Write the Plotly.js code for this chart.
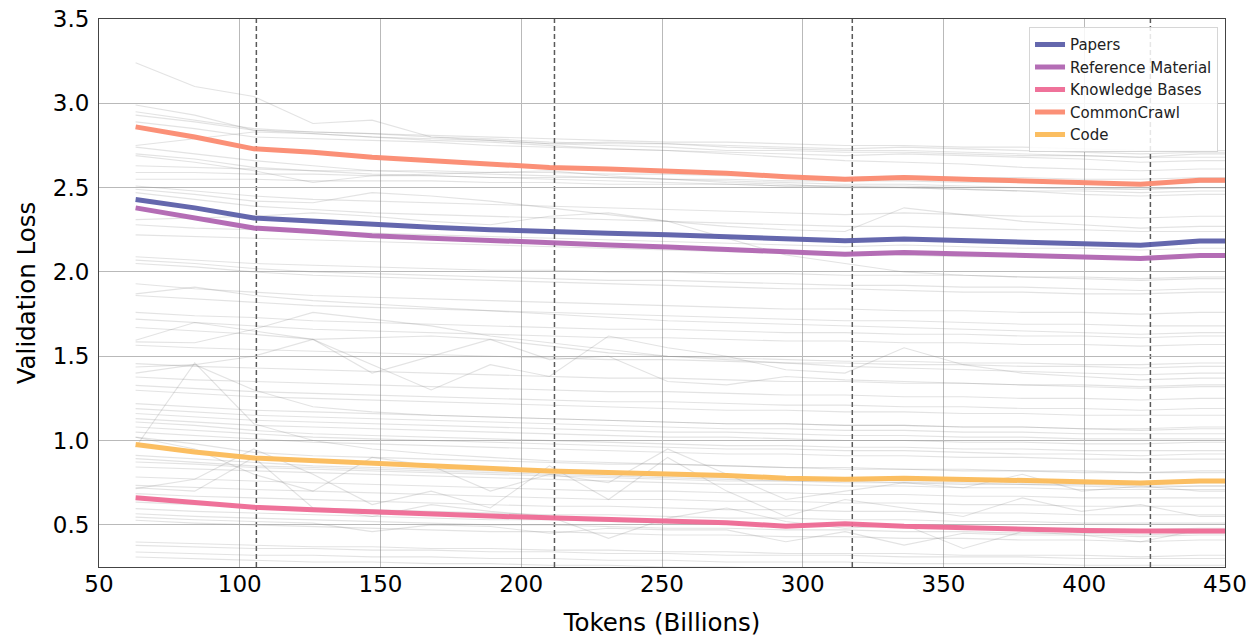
<!DOCTYPE html>
<html>
<head>
<meta charset="utf-8">
<script src="https://cdn.plot.ly/plotly-3.0.1.min.js"></script>
<style>html,body{margin:0;padding:0;background:#fff;}#chart{width:1250px;height:637px;}</style>
</head>
<body>
<div id="chart"></div>
<script>
// Token counts (billions) at each evaluation
const tokens = [63,84,105,126,147,168,189,210,231,252,273,294,315,336,357,378,399,420,441,462];
// Epoch boundaries (dashed lines)
const epochs = [105.9, 211.8, 317.6, 423.5];

// Highlighted corpora
const seriesNames = ["Papers", "Reference Material", "Knowledge Bases", "CommonCrawl", "Code"];
const papers = [2.43,2.38,2.32,2.30,2.28,2.265,2.25,2.237,2.23,2.22,2.21,2.195,2.185,2.195,2.185,2.174,2.165,2.158,2.183,2.183];
const referenceMaterial = [2.38,2.32,2.26,2.24,2.215,2.20,2.185,2.168,2.16,2.148,2.135,2.115,2.105,2.115,2.105,2.095,2.088,2.08,2.098,2.098];
const knowledgeBases = [0.661,0.635,0.605,0.59,0.576,0.566,0.552,0.542,0.532,0.527,0.513,0.491,0.507,0.491,0.481,0.477,0.467,0.463,0.467,0.463];
const commonCrawl = [2.86,2.80,2.73,2.71,2.68,2.66,2.64,2.62,2.61,2.60,2.585,2.565,2.55,2.56,2.55,2.54,2.53,2.52,2.543,2.543];
const code = [0.977,0.932,0.897,0.881,0.866,0.853,0.838,0.819,0.811,0.805,0.793,0.777,0.77,0.777,0.772,0.764,0.756,0.748,0.76,0.76];

// Other validation subsets (background)
const g01 = [3.24,3.10,3.04,2.88,2.90,2.80,2.78,2.76,2.75,2.74,2.72,2.72,2.71,2.71,2.70,2.69,2.69,2.68,2.70,2.70];
const g02 = [2.99,2.93,2.84,2.83,2.82,2.81,2.80,2.79,2.78,2.77,2.77,2.76,2.75,2.75,2.74,2.74,2.73,2.72,2.72,2.72];
const g03 = [2.95,2.90,2.85,2.83,2.82,2.80,2.79,2.77,2.76,2.76,2.75,2.74,2.73,2.74,2.73,2.72,2.71,2.70,2.71,2.71];
const g04 = [2.93,2.89,2.84,2.82,2.80,2.79,2.78,2.76,2.77,2.76,2.74,2.73,2.72,2.72,2.71,2.70,2.69,2.68,2.68,2.68];
const g05 = [2.89,2.85,2.80,2.79,2.78,2.77,2.75,2.74,2.73,2.72,2.71,2.70,2.69,2.70,2.69,2.68,2.67,2.65,2.66,2.66];
const g06 = [2.75,2.79,2.83,2.82,2.80,2.78,2.77,2.75,2.73,2.72,2.70,2.68,2.66,2.65,2.64,2.62,2.61,2.60,2.61,2.61];
const g07 = [2.74,2.70,2.66,2.63,2.60,2.59,2.58,2.57,2.56,2.55,2.54,2.53,2.52,2.52,2.51,2.50,2.49,2.49,2.50,2.50];
const g08 = [2.70,2.67,2.62,2.60,2.58,2.57,2.56,2.55,2.54,2.53,2.52,2.51,2.51,2.50,2.49,2.48,2.48,2.47,2.48,2.48];
const g09 = [2.69,2.65,2.60,2.53,2.57,2.58,2.59,2.60,2.57,2.55,2.53,2.52,2.50,2.50,2.49,2.48,2.46,2.45,2.46,2.46];
const g10 = [2.63,2.62,2.61,2.60,2.60,2.60,2.59,2.59,2.58,2.58,2.57,2.57,2.56,2.57,2.56,2.56,2.55,2.55,2.56,2.56];
const g11 = [2.59,2.59,2.58,2.58,2.57,2.57,2.56,2.56,2.56,2.55,2.55,2.54,2.54,2.54,2.53,2.53,2.53,2.52,2.53,2.53];
const g12 = [2.55,2.55,2.55,2.54,2.54,2.54,2.53,2.53,2.52,2.52,2.52,2.51,2.51,2.51,2.50,2.50,2.50,2.49,2.50,2.50];
const g13 = [2.51,2.48,2.45,2.43,2.42,2.41,2.40,2.39,2.38,2.37,2.36,2.35,2.34,2.35,2.34,2.33,2.33,2.32,2.33,2.33];
const g14 = [2.49,2.46,2.42,2.41,2.47,2.45,2.42,2.38,2.34,2.30,2.27,2.25,2.24,2.38,2.34,2.30,2.28,2.26,2.27,2.27];
const g15 = [2.47,2.43,2.39,2.37,2.35,2.34,2.33,2.32,2.31,2.30,2.29,2.28,2.27,2.27,2.26,2.25,2.25,2.24,2.24,2.24];
const g16 = [2.28,2.26,2.25,2.24,2.23,2.22,2.21,2.20,2.19,2.18,2.17,2.16,2.15,2.16,2.15,2.14,2.14,2.13,2.14,2.14];
const g17 = [2.22,2.21,2.20,2.19,2.18,2.17,2.16,2.15,2.14,2.13,2.12,2.11,2.11,2.10,2.09,2.09,2.08,2.08,2.09,2.09];
const g18 = [2.09,2.07,2.05,2.04,2.03,2.02,2.01,2.01,2.00,2.00,1.99,1.99,1.98,1.98,1.98,1.97,1.97,1.96,1.97,1.97];
const g19 = [2.07,2.05,2.02,2.00,1.99,1.98,1.97,1.96,1.95,1.95,1.94,1.93,1.92,1.92,1.91,1.91,1.90,1.89,1.90,1.90];
const g20 = [2.05,2.03,2.00,1.98,1.97,1.96,1.95,1.94,1.93,1.92,1.91,1.90,1.90,1.89,1.88,1.88,1.87,1.87,1.88,1.88];
const g21 = [1.93,1.90,1.88,1.86,1.85,1.84,1.83,1.82,1.81,1.80,1.79,1.78,1.78,1.77,1.77,1.76,1.76,1.75,1.76,1.76];
const g22 = [1.87,1.91,1.86,1.83,1.81,1.79,1.77,1.75,1.73,1.71,1.70,1.69,1.68,1.67,1.66,1.65,1.64,1.63,1.64,1.64];
const g23 = [1.86,1.84,1.82,1.80,1.79,1.78,1.77,1.76,1.75,1.74,1.73,1.72,1.71,1.71,1.70,1.69,1.69,1.68,1.68,1.68];
const g24 = [1.76,1.74,1.73,1.71,1.70,1.69,1.68,1.67,1.66,1.66,1.65,1.64,1.64,1.63,1.63,1.62,1.62,1.61,1.62,1.62];
const g25 = [1.72,1.70,1.68,1.66,1.65,1.64,1.63,1.62,1.61,1.61,1.60,1.59,1.59,1.58,1.58,1.57,1.57,1.56,1.57,1.57];
const g26 = [1.67,1.65,1.63,1.60,1.61,1.62,1.60,1.56,1.52,1.50,1.49,1.48,1.47,1.47,1.46,1.46,1.45,1.45,1.46,1.46];
const g27 = [1.595,1.70,1.65,1.60,1.40,1.50,1.60,1.48,1.50,1.35,1.33,1.38,1.36,1.35,1.34,1.33,1.32,1.31,1.32,1.32];
const g28 = [1.585,1.58,1.66,1.76,1.72,1.68,1.62,1.58,1.54,1.50,1.48,1.46,1.44,1.43,1.42,1.41,1.40,1.39,1.40,1.40];
const g29 = [1.565,1.55,1.54,1.53,1.52,1.51,1.50,1.49,1.48,1.48,1.47,1.46,1.46,1.45,1.45,1.44,1.44,1.43,1.44,1.44];
const g30 = [1.456,1.44,1.43,1.42,1.41,1.40,1.39,1.38,1.37,1.37,1.36,1.35,1.35,1.34,1.34,1.33,1.33,1.32,1.33,1.33];
const g31 = [1.436,1.45,1.30,1.20,1.17,1.15,1.14,1.13,1.12,1.11,1.10,1.10,1.09,1.09,1.08,1.08,1.07,1.07,1.08,1.08];
const g32 = [1.377,1.36,1.35,1.34,1.33,1.32,1.31,1.30,1.29,1.29,1.28,1.27,1.27,1.26,1.26,1.25,1.25,1.24,1.25,1.25];
const g33 = [1.327,1.31,1.29,1.28,1.27,1.26,1.25,1.24,1.23,1.23,1.22,1.21,1.21,1.20,1.20,1.19,1.19,1.18,1.19,1.19];
const g34 = [1.298,1.28,1.26,1.25,1.24,1.23,1.22,1.21,1.20,1.19,1.18,1.18,1.17,1.17,1.16,1.16,1.15,1.15,1.15,1.15];
const g35 = [1.219,1.20,1.18,1.17,1.16,1.15,1.14,1.13,1.12,1.11,1.10,1.10,1.09,1.09,1.08,1.08,1.07,1.06,1.07,1.07];
const g36 = [1.189,1.17,1.15,1.14,1.13,1.12,1.11,1.10,1.09,1.08,1.07,1.07,1.06,1.06,1.05,1.05,1.04,1.04,1.04,1.04];
const g37 = [1.16,1.14,1.12,1.11,1.10,1.09,1.08,1.07,1.06,1.05,1.05,1.04,1.03,1.03,1.02,1.02,1.01,1.01,1.01,1.01];
const g38 = [1.13,1.11,1.09,1.08,1.07,1.06,1.05,1.04,1.03,1.02,1.02,1.01,1.00,1.00,0.99,0.99,0.98,0.98,0.99,0.99];
const g39 = [1.11,1.09,1.06,1.04,1.03,1.02,1.01,1.00,0.99,0.98,0.97,0.97,0.96,0.96,0.95,0.95,0.94,0.94,0.94,0.94];
const g40 = [1.08,1.06,1.04,1.02,1.01,1.00,0.99,0.98,0.97,0.96,0.95,0.95,0.94,0.94,0.93,0.92,0.92,0.91,0.92,0.92];
const g41 = [1.05,1.03,1.01,0.99,0.98,0.97,0.96,0.95,0.94,0.93,0.92,0.92,0.91,0.91,0.90,0.90,0.89,0.89,0.89,0.89];
const g42 = [1.02,0.95,0.80,0.70,0.90,0.85,0.70,0.80,0.75,0.95,0.80,0.65,0.70,0.75,0.72,0.80,0.70,0.73,0.70,0.70];
const g43 = [0.912,0.89,0.87,0.85,0.84,0.83,0.82,0.81,0.80,0.79,0.78,0.78,0.77,0.76,0.76,0.75,0.75,0.74,0.75,0.75];
const g44 = [0.893,0.87,0.85,0.84,0.83,0.82,0.81,0.80,0.79,0.78,0.77,0.76,0.76,0.75,0.75,0.74,0.74,0.73,0.73,0.73];
const g45 = [0.873,0.86,0.84,0.83,0.82,0.81,0.80,0.79,0.78,0.77,0.76,0.76,0.75,0.75,0.74,0.74,0.73,0.72,0.73,0.73];
const g46 = [0.843,0.83,0.82,0.81,0.80,0.79,0.78,0.77,0.76,0.75,0.74,0.74,0.73,0.73,0.72,0.72,0.71,0.71,0.71,0.71];
const g47 = [0.784,0.77,0.76,0.75,0.74,0.73,0.72,0.71,0.70,0.70,0.69,0.69,0.68,0.68,0.67,0.67,0.66,0.66,0.66,0.66];
const g48 = [0.734,0.72,0.71,0.70,0.69,0.68,0.67,0.66,0.65,0.65,0.64,0.64,0.63,0.63,0.62,0.62,0.61,0.61,0.61,0.61];
const g49 = [0.715,0.77,0.95,0.80,0.62,0.70,0.60,0.85,0.65,0.90,0.70,0.55,0.65,0.60,0.55,0.66,0.58,0.62,0.55,0.55];
const g50 = [0.685,0.67,0.66,0.65,0.64,0.63,0.62,0.61,0.61,0.60,0.59,0.59,0.58,0.58,0.57,0.57,0.56,0.56,0.56,0.56];
const g51 = [0.635,0.62,0.61,0.60,0.59,0.58,0.57,0.56,0.56,0.55,0.54,0.54,0.53,0.53,0.52,0.52,0.51,0.51,0.51,0.51];
const g52 = [0.596,0.58,0.57,0.56,0.55,0.54,0.53,0.53,0.52,0.51,0.51,0.50,0.50,0.49,0.49,0.48,0.48,0.47,0.48,0.48];
const g53 = [0.566,0.55,0.54,0.53,0.52,0.51,0.50,0.50,0.49,0.48,0.48,0.47,0.47,0.46,0.46,0.45,0.45,0.44,0.45,0.45];
const g54 = [0.546,0.53,0.52,0.51,0.46,0.50,0.49,0.45,0.48,0.47,0.47,0.40,0.46,0.38,0.45,0.44,0.44,0.43,0.44,0.44];
const g55 = [0.527,0.51,0.50,0.49,0.48,0.47,0.46,0.46,0.45,0.44,0.44,0.43,0.43,0.42,0.42,0.41,0.41,0.40,0.41,0.41];
const g56 = [0.398,0.39,0.38,0.37,0.37,0.36,0.36,0.35,0.35,0.34,0.34,0.33,0.33,0.33,0.32,0.32,0.32,0.31,0.32,0.32];
const g57 = [0.378,0.37,0.36,0.36,0.35,0.35,0.34,0.34,0.33,0.33,0.32,0.32,0.32,0.31,0.31,0.31,0.30,0.30,0.30,0.30];
const g58 = [0.339,0.33,0.32,0.32,0.31,0.31,0.30,0.30,0.29,0.29,0.28,0.28,0.28,0.27,0.27,0.27,0.26,0.26,0.26,0.26];
const g59 = [0.309,0.30,0.29,0.28,0.28,0.27,0.27,0.26,0.26,0.25,0.25,0.24,0.24,0.24,0.23,0.23,0.23,0.22,0.22,0.22];
const g60 = [1.02,0.98,0.93,0.91,0.90,0.89,0.88,0.87,0.86,0.86,0.85,0.84,0.84,0.83,0.83,0.82,0.82,0.81,0.82,0.82];
const g61 = [1.40,1.45,1.50,1.60,1.45,1.30,1.45,1.38,1.62,1.55,1.50,1.42,1.40,1.55,1.45,1.40,1.38,1.36,1.37,1.37];
const g62 = [2.31,2.32,2.33,2.35,2.33,2.30,2.28,2.33,2.35,2.30,2.20,2.10,2.05,2.00,1.98,1.97,1.96,1.95,1.96,1.96];
const g63 = [0.96,1.46,1.10,1.00,0.95,0.92,0.90,0.88,0.87,0.86,0.85,0.84,0.83,0.83,0.82,0.82,0.81,0.81,0.81,0.81];
const g64 = [0.72,0.70,0.90,0.60,0.55,0.62,0.58,0.55,0.42,0.54,0.60,0.52,0.48,0.50,0.36,0.46,0.44,0.40,0.47,0.47];

const grayLines = [g01,g02,g03,g04,g05,g06,g07,g08,g09,g10,g11,g12,g13,g14,g15,g16,g17,g18,g19,g20,
  g21,g22,g23,g24,g25,g26,g27,g28,g29,g30,g31,g32,g33,g34,g35,g36,g37,g38,g39,g40,
  g41,g42,g43,g44,g45,g46,g47,g48,g49,g50,g51,g52,g53,g54,g55,g56,g57,g58,g59,g60,g61,g62,g63,g64];

const highlighted = [papers, referenceMaterial, knowledgeBases, commonCrawl, code];
const colors = ["#5c5fa9", "#b065b1", "#ee6a95", "#fb8a70", "#fbbb58"];

const traces = [];
grayLines.forEach(function (ys) {
  traces.push({
    x: tokens, y: ys, type: "scatter", mode: "lines",
    line: {color: "rgba(128,128,128,0.22)", width: 1.1},
    showlegend: false, hoverinfo: "skip"
  });
});
highlighted.forEach(function (ys, i) {
  traces.push({
    x: tokens, y: ys, type: "scatter", mode: "lines", name: seriesNames[i],
    line: {color: colors[i], width: 5}, opacity: 0.95
  });
});

const shapes = epochs.map(function (e) {
  return {type: "line", xref: "x", yref: "paper", x0: e, x1: e, y0: 0, y1: 1,
          line: {color: "#5a5a5a", width: 1.5, dash: "5px,3px"}, layer: "below"};
});

const font = "DejaVu Sans, sans-serif";
const layout = {
  width: 1250, height: 637,
  margin: {l: 99, r: 25, t: 19, b: 70},
  paper_bgcolor: "#fff", plot_bgcolor: "#fff",
  font: {family: font, color: "#000"},
  showlegend: true,
  legend: {
    x: 0.9938, xanchor: "right", y: 0.985, yanchor: "top",
    bgcolor: "rgba(255,255,255,0.85)", bordercolor: "#d6d6d6", borderwidth: 1,
    font: {family: font, size: 15, color: "#222"}, tracegroupgap: 0
  },
  xaxis: {
    range: [50, 450], dtick: 50, tick0: 50,
    showgrid: true, gridcolor: "#b9b9b9", gridwidth: 1,
    zeroline: false, showline: true, linecolor: "#444", linewidth: 1, mirror: true,
    ticks: "", ticklabelstandoff: -4,
    tickfont: {family: font, size: 23, color: "#000"},
    title: {text: "Tokens (Billions)", font: {family: font, size: 24.5, color: "#000"}, standoff: 20}
  },
  yaxis: {
    range: [0.25, 3.5], tickvals: [0.5, 1.0, 1.5, 2.0, 2.5, 3.0, 3.5],
    ticktext: ["0.5", "1.0", "1.5", "2.0", "2.5", "3.0", "3.5"],
    showgrid: true, gridcolor: "#b9b9b9", gridwidth: 1,
    zeroline: false, showline: true, linecolor: "#444", linewidth: 1, mirror: true,
    ticks: "outside", ticklen: 4, tickcolor: "rgba(0,0,0,0)",
    tickfont: {family: font, size: 23, color: "#000"},
    title: {text: "Validation Loss", font: {family: font, size: 24.5, color: "#000"}, standoff: 10}
  },
  shapes: shapes
};

Plotly.newPlot("chart", traces, layout, {displayModeBar: false, staticPlot: true});
</script>
</body>
</html>
